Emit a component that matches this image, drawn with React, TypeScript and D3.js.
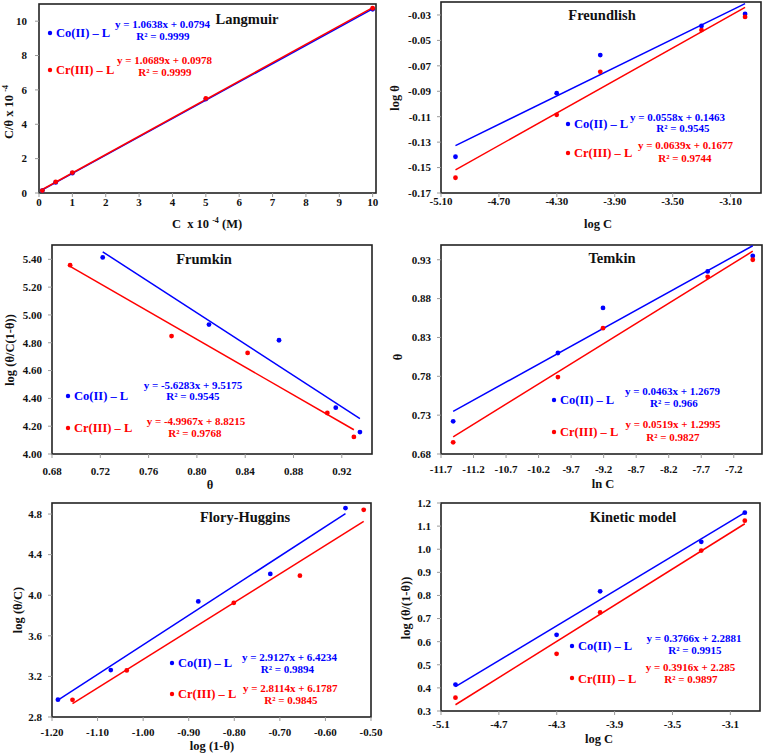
import React from "react";
import * as d3 from "d3";

// ---------- data ----------
const SERIES_NAMES = ["Co(II) – L", "Cr(III) – L"];
const COLORS = ["#0000ff", "#ff0000"];

// Langmuir
const LANG_X = [0.1, 0.5, 1, 5, 10];
const LANG_CO = [0.139, 0.617, 1.152, 5.464, 10.695];
const LANG_CR = [0.144, 0.642, 1.188, 5.507, 10.753];
const LANG_FIT = [[1.0638, 0.0794], [1.0689, 0.0978]];
const LANG_EQ = ["y = 1.0638x + 0.0794", "y = 1.0689x + 0.0978"];
const LANG_R2 = ["R² = 0.9999", "R² = 0.9999"];
const LANG_XTICKS = [0, 1, 2, 3, 4, 5, 6, 7, 8, 9, 10];
const LANG_YTICKS = [0, 2, 4, 6, 8, 10];

// Freundlish
const LOGC = [-5, -4.301, -4, -3.301, -3];
const FREU_CO = [-0.1415, -0.0915, -0.0615, -0.0386, -0.0292];
const FREU_CR = [-0.158, -0.1085, -0.0747, -0.0419, -0.0315];
const FREU_FIT = [[0.0558, 0.1463], [0.0639, 0.1677]];
const FREU_EQ = ["y = 0.0558x + 0.1463", "y = 0.0639x + 0.1677"];
const FREU_R2 = ["R² = 0.9545", "R² = 0.9744"];
const FREU_XTICKS = [-5.1, -4.7, -4.3, -3.9, -3.5, -3.1];
const FREU_YTICKS = [-0.17, -0.15, -0.13, -0.11, -0.09, -0.07, -0.05, -0.03];

// Frumkin
const FRUM_X_CO = [0.722, 0.81, 0.868, 0.915, 0.935];
const FRUM_Y_CO = [5.414, 4.931, 4.818, 4.333, 4.158];
const FRUM_X_CR = [0.695, 0.779, 0.842, 0.908, 0.93];
const FRUM_Y_CR = [5.358, 4.848, 4.727, 4.295, 4.123];
const FRUM_FIT = [[-5.6283, 9.5175], [-4.9967, 8.8215]];
const FRUM_EQ = ["y = -5.6283x + 9.5175", "y = -4.9967x + 8.8215"];
const FRUM_R2 = ["R² = 0.9545", "R² = 0.9768"];
const FRUM_XTICKS = [0.68, 0.72, 0.76, 0.8, 0.84, 0.88, 0.92];
const FRUM_YTICKS = [4.0, 4.2, 4.4, 4.6, 4.8, 5.0, 5.2, 5.4];

// Temkin
const LNC = [-11.513, -9.903, -9.21, -7.601, -6.908];
const TEMK_CO = [0.722, 0.81, 0.868, 0.915, 0.935];
const TEMK_CR = [0.695, 0.779, 0.842, 0.908, 0.93];
const TEMK_FIT = [[0.0463, 1.2679], [0.0519, 1.2995]];
const TEMK_EQ = ["y = 0.0463x + 1.2679", "y = 0.0519x + 1.2995"];
const TEMK_R2 = ["R² = 0.966", "R² = 0.9827"];
const TEMK_XTICKS = [-11.7, -11.2, -10.7, -10.2, -9.7, -9.2, -8.7, -8.2, -7.7, -7.2];
const TEMK_YTICKS = [0.68, 0.73, 0.78, 0.83, 0.88, 0.93];

// Flory-Huggins
const FLORY_X_CO = [-0.556, -0.721, -0.879, -1.071, -1.187];
const FLORY_Y_CO = [4.859, 4.21, 3.939, 3.262, 2.971];
const FLORY_X_CR = [-0.516, -0.656, -0.801, -1.036, -1.155];
const FLORY_Y_CR = [4.842, 4.193, 3.925, 3.259, 2.969];
const FLORY_FIT = [[2.9127, 6.4234], [2.8114, 6.1787]];
const FLORY_EQ = ["y = 2.9127x + 6.4234", "y = 2.8114x + 6.1787"];
const FLORY_R2 = ["R² = 0.9894", "R² = 0.9845"];
const FLORY_XTICKS = [-1.2, -1.1, -1.0, -0.9, -0.8, -0.7, -0.6, -0.5];
const FLORY_YTICKS = [2.8, 3.2, 3.6, 4.0, 4.4, 4.8];

// Kinetic model
const KIN_CO = [0.4145, 0.6297, 0.8179, 1.032, 1.158];
const KIN_CR = [0.3577, 0.5472, 0.7267, 0.9943, 1.1234];
const KIN_FIT = [[0.3766, 2.2881], [0.3916, 2.285]];
const KIN_EQ = ["y = 0.3766x + 2.2881", "y = 0.3916x + 2.285"];
const KIN_R2 = ["R² = 0.9915", "R² = 0.9897"];
const KIN_XTICKS = [-5.1, -4.7, -4.3, -3.9, -3.5, -3.1];
const KIN_YTICKS = [0.3, 0.4, 0.5, 0.6, 0.7, 0.8, 0.9, 1.0, 1.1, 1.2];

const FONT = "'Liberation Serif', 'Times New Roman', serif";

type Series = { xs: number[]; ys: number[]; fit: number[]; eq: string; r2: string };
type Leg = { bx: number; by: number; tb: number; ex: number; eb: number; rx: number; rb: number };
type PanelCfg = {
  box: number[];
  xDomain: number[];
  yDomain: number[];
  xTicks: number[];
  yTicks: number[];
  xFmt: (d: number) => string;
  yFmt: (d: number) => string;
  xOff: number;
  yGap: number;
  title: string;
  titleX: number;
  titleY: number;
  xTitle: React.ReactNode;
  xTitleX: number;
  xTitleY: number;
  yTitle: React.ReactNode;
  yTitleX: number;
  yTitleY: number;
  series: Series[];
  legend: Leg[];
};

const f2 = (d: number) => d.toFixed(2);
const f1 = (d: number) => d.toFixed(1);

const PANELS: PanelCfg[] = [
  {
    box: [39, 4, 376, 193],
    xDomain: [0, 10.1],
    yDomain: [0, 11],
    xTicks: LANG_XTICKS,
    yTicks: LANG_YTICKS,
    xFmt: (d) => String(d),
    yFmt: (d) => String(d),
    xOff: 13,
    yGap: 12,
    title: "Langmuir",
    titleX: 247,
    titleY: 24,
    xTitle: (
      <>
        <tspan>{"C  x 10 "}</tspan>
        <tspan fontSize={8} dy={-5}>-4</tspan>
        <tspan dy={5}>{" (M)"}</tspan>
      </>
    ),
    xTitleX: 207,
    xTitleY: 228,
    yTitle: (
      <>
        <tspan>{"C/θ x 10 "}</tspan>
        <tspan fontSize={8} dy={-5}>-4</tspan>
      </>
    ),
    yTitleX: 9,
    yTitleY: 112,
    series: [
      { xs: LANG_X, ys: LANG_CO, fit: LANG_FIT[0], eq: LANG_EQ[0], r2: LANG_R2[0] },
      { xs: LANG_X, ys: LANG_CR, fit: LANG_FIT[1], eq: LANG_EQ[1], r2: LANG_R2[1] },
    ],
    legend: [
      { bx: 50, by: 33, tb: 37, ex: 162.5, eb: 28, rx: 163, rb: 40 },
      { bx: 50, by: 70, tb: 74, ex: 164.5, eb: 64, rx: 165, rb: 76 },
    ],
  },
  {
    box: [441, 2, 761, 193],
    xDomain: [-5.1, -2.89],
    yDomain: [-0.17, -0.0198],
    xTicks: FREU_XTICKS,
    yTicks: FREU_YTICKS,
    xFmt: f2,
    yFmt: f2,
    xOff: 12,
    yGap: 10,
    title: "Freundlish",
    titleX: 602,
    titleY: 20,
    xTitle: "log C",
    xTitleX: 598,
    xTitleY: 228,
    yTitle: "log θ",
    yTitleX: 395,
    yTitleY: 98,
    series: [
      { xs: LOGC, ys: FREU_CO, fit: FREU_FIT[0], eq: FREU_EQ[0], r2: FREU_R2[0] },
      { xs: LOGC, ys: FREU_CR, fit: FREU_FIT[1], eq: FREU_EQ[1], r2: FREU_R2[1] },
    ],
    legend: [
      { bx: 568, by: 124, tb: 128, ex: 677.5, eb: 121, rx: 683, rb: 132 },
      { bx: 568, by: 153, tb: 157, ex: 685.5, eb: 149, rx: 685, rb: 162 },
    ],
  },
  {
    box: [52, 245, 372, 454],
    xDomain: [0.68, 0.945],
    yDomain: [4.0, 5.503],
    xTicks: FRUM_XTICKS,
    yTicks: FRUM_YTICKS,
    xFmt: f2,
    yFmt: f2,
    xOff: 21,
    yGap: 10,
    title: "Frumkin",
    titleX: 204,
    titleY: 264,
    xTitle: "θ",
    xTitleX: 210,
    xTitleY: 489,
    yTitle: "log (θ/C(1-θ))",
    yTitleX: 10,
    yTitleY: 350,
    series: [
      { xs: FRUM_X_CO, ys: FRUM_Y_CO, fit: FRUM_FIT[0], eq: FRUM_EQ[0], r2: FRUM_R2[0] },
      { xs: FRUM_X_CR, ys: FRUM_Y_CR, fit: FRUM_FIT[1], eq: FRUM_EQ[1], r2: FRUM_R2[1] },
    ],
    legend: [
      { bx: 68, by: 396, tb: 400, ex: 193, eb: 389, rx: 193, rb: 400 },
      { bx: 68, by: 428, tb: 432, ex: 196, eb: 425, rx: 195, rb: 437 },
    ],
  },
  {
    box: [441, 245, 762, 454],
    xDomain: [-11.7, -6.766],
    yDomain: [0.68, 0.949],
    xTicks: TEMK_XTICKS,
    yTicks: TEMK_YTICKS,
    xFmt: f1,
    yFmt: f2,
    xOff: 19,
    yGap: 10,
    title: "Temkin",
    titleX: 612,
    titleY: 263,
    xTitle: "ln C",
    xTitleX: 603,
    xTitleY: 488,
    yTitle: "θ",
    yTitleX: 398,
    yTitleY: 357,
    series: [
      { xs: LNC, ys: TEMK_CO, fit: TEMK_FIT[0], eq: TEMK_EQ[0], r2: TEMK_R2[0] },
      { xs: LNC, ys: TEMK_CR, fit: TEMK_FIT[1], eq: TEMK_EQ[1], r2: TEMK_R2[1] },
    ],
    legend: [
      { bx: 554, by: 400, tb: 404, ex: 672.5, eb: 395, rx: 674, rb: 407 },
      { bx: 554, by: 432, tb: 436, ex: 673, eb: 428, rx: 673, rb: 441 },
    ],
  },
  {
    box: [52, 503, 371, 717],
    xDomain: [-1.2, -0.5],
    yDomain: [2.8, 4.909],
    xTicks: FLORY_XTICKS,
    yTicks: FLORY_YTICKS,
    xFmt: f2,
    yFmt: f1,
    xOff: 19,
    yGap: 10,
    title: "Flory-Huggins",
    titleX: 245,
    titleY: 522,
    xTitle: "log (1-θ)",
    xTitleX: 212,
    xTitleY: 750,
    yTitle: "log (θ/C)",
    yTitleX: 18,
    yTitleY: 610,
    series: [
      { xs: FLORY_X_CO, ys: FLORY_Y_CO, fit: FLORY_FIT[0], eq: FLORY_EQ[0], r2: FLORY_R2[0] },
      { xs: FLORY_X_CR, ys: FLORY_Y_CR, fit: FLORY_FIT[1], eq: FLORY_EQ[1], r2: FLORY_R2[1] },
    ],
    legend: [
      { bx: 172, by: 663, tb: 667, ex: 289.5, eb: 661, rx: 287.5, rb: 673 },
      { bx: 172, by: 694, tb: 698, ex: 290.3, eb: 692, rx: 291, rb: 704 },
    ],
  },
  {
    box: [441, 503, 760, 711],
    xDomain: [-5.1, -2.895],
    yDomain: [0.3, 1.2],
    xTicks: KIN_XTICKS,
    yTicks: KIN_YTICKS,
    xFmt: f1,
    yFmt: f1,
    xOff: 17,
    yGap: 10,
    title: "Kinetic model",
    titleX: 633,
    titleY: 522,
    xTitle: "log C",
    xTitleX: 599,
    xTitleY: 743,
    yTitle: "log (θ/(1-θ))",
    yTitleX: 406,
    yTitleY: 608,
    series: [
      { xs: LOGC, ys: KIN_CO, fit: KIN_FIT[0], eq: KIN_EQ[0], r2: KIN_R2[0] },
      { xs: LOGC, ys: KIN_CR, fit: KIN_FIT[1], eq: KIN_EQ[1], r2: KIN_R2[1] },
    ],
    legend: [
      { bx: 572, by: 646, tb: 650, ex: 694, eb: 642, rx: 695, rb: 654 },
      { bx: 572, by: 678, tb: 683, ex: 690.5, eb: 671, rx: 691, rb: 683 },
    ],
  },
];

function Panel({ p }: { p: PanelCfg }) {
  const [L, T, R, B] = p.box;
  const x = d3.scaleLinear().domain(p.xDomain).range([L, R]);
  const y = d3.scaleLinear().domain(p.yDomain).range([B, T]);
  const line = d3
    .line<[number, number]>()
    .x((d) => x(d[0]))
    .y((d) => y(d[1]));
  return (
    <g fontFamily={FONT} fontWeight="bold">
      <rect x={L} y={T} width={R - L} height={B - T} fill="#fff" stroke="#222" strokeWidth={1.6} />
      {/* ticks */}
      {p.yTicks.map((t) => (
        <g key={"y" + t}>
          <line x1={L - 4} x2={L} y1={y(t)} y2={y(t)} stroke="#999" strokeWidth={1} />
          <text x={L - p.yGap} y={y(t)} dy="0.35em" textAnchor="end" fontSize={11} fill="#111">
            {p.yFmt(t)}
          </text>
        </g>
      ))}
      {p.xTicks.map((t) => (
        <g key={"x" + t}>
          <line x1={x(t)} x2={x(t)} y1={B} y2={B + 4} stroke="#999" strokeWidth={1} />
          <text x={x(t)} y={B + p.xOff} textAnchor="middle" fontSize={11} fill="#111">
            {p.xFmt(t)}
          </text>
        </g>
      ))}
      {/* fit lines */}
      {p.series.map((s, i) => {
        const x0 = d3.min(s.xs) as number;
        const x1 = d3.max(s.xs) as number;
        const pts: [number, number][] = [
          [x0, s.fit[0] * x0 + s.fit[1]],
          [x1, s.fit[0] * x1 + s.fit[1]],
        ];
        return <path key={"l" + i} d={line(pts) || ""} stroke={COLORS[i]} strokeWidth={1.5} fill="none" />;
      })}
      {/* points */}
      {p.series.map((s, i) =>
        s.xs.map((xv, j) => (
          <circle key={"c" + i + "-" + j} cx={x(xv)} cy={y(s.ys[j])} r={2.4} fill={COLORS[i]} />
        ))
      )}
      {/* title */}
      <text x={p.titleX} y={p.titleY} textAnchor="middle" fontSize={14.5} fill="#111">
        {p.title}
      </text>
      {/* legend + equations */}
      {p.series.map((s, i) => {
        const lg = p.legend[i];
        return (
          <g key={"lg" + i} fill={COLORS[i]}>
            <circle cx={lg.bx} cy={lg.by} r={2.2} fill={COLORS[i]} />
            <text x={lg.bx + 6} y={lg.tb} fontSize={12.5}>
              {SERIES_NAMES[i]}
            </text>
            <text x={lg.ex} y={lg.eb} fontSize={11} textAnchor="middle">
              {s.eq}
            </text>
            <text x={lg.rx} y={lg.rb} fontSize={11} textAnchor="middle">
              {s.r2}
            </text>
          </g>
        );
      })}
      {/* axis titles */}
      <text x={p.xTitleX} y={p.xTitleY} textAnchor="middle" fontSize={12.5} fill="#111" style={{ whiteSpace: "pre" }}>
        {p.xTitle}
      </text>
      <text
        transform={`translate(${p.yTitleX},${p.yTitleY}) rotate(-90)`}
        textAnchor="middle"
        dy="0.35em"
        fontSize={12.5}
        fill="#111"
        style={{ whiteSpace: "pre" }}
      >
        {p.yTitle}
      </text>
    </g>
  );
}

export default function App() {
  return (
    <svg
      width={763}
      height={755}
      viewBox="0 0 763 755"
      style={{ position: "absolute", left: 0, top: 0, background: "#fff" }}
    >
      <rect x={0} y={0} width={763} height={755} fill="#fff" />
      {PANELS.map((p, i) => (
        <Panel key={i} p={p} />
      ))}
    </svg>
  );
}
